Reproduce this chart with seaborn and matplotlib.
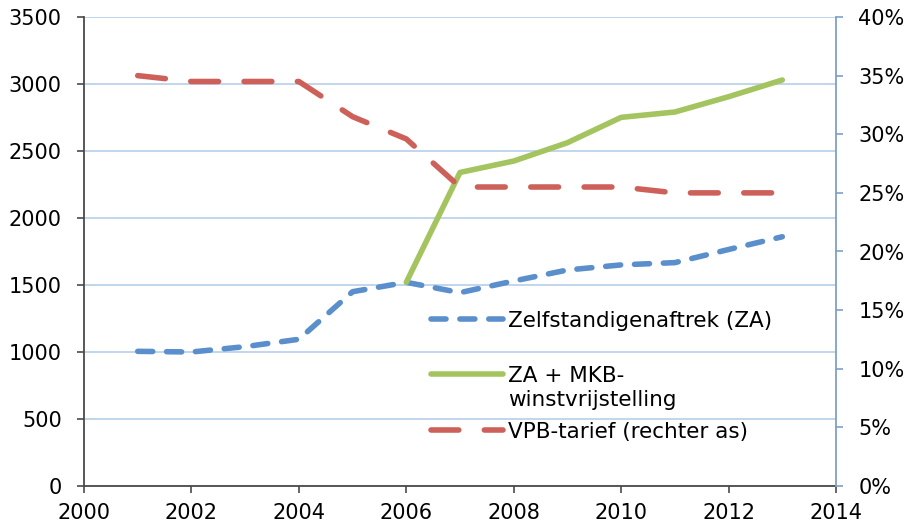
import matplotlib
matplotlib.use("Agg")
import matplotlib.pyplot as plt
import seaborn as sns
import pandas as pd
from matplotlib.ticker import FuncFormatter, MultipleLocator

# Deduction amounts (euro) and corporate tax rate per year
years = [2001, 2002, 2003, 2004, 2005, 2006, 2007, 2008, 2009, 2010, 2011, 2012, 2013]
za = [1005, 1000, 1040, 1095, 1450, 1520, 1443, 1530, 1612, 1650, 1667, 1765, 1860]
za_mkb_years = [2006, 2007, 2008, 2009, 2010, 2011, 2012, 2013]
za_mkb = [1520, 2340, 2425, 2562, 2751, 2791, 2905, 3030]
vpb = [35.0, 34.5, 34.5, 34.5, 31.5, 29.6, 25.5, 25.5, 25.5, 25.5, 25.0, 25.0, 25.0]

label_za = "Zelfstandigenaftrek (ZA)"
label_mkb = ["ZA + MKB-", "winstvrijstelling"]
label_vpb = "VPB-tarief (rechter as)"

blue = "#5a8fcb"
green = "#a4c45f"
red = "#cd615a"
grid_col = "#b6cfea"
right_col = "#7f9fc8"
dark = "#4a4a4a"

sns.set_style("white")
plt.rcParams["font.family"] = ["DejaVu Sans"]
plt.rcParams["text.color"] = "black"
fs = 15
fs_leg = 15.5

df_za = pd.DataFrame({"jaar": years, "bedrag": za})
df_mkb = pd.DataFrame({"jaar": za_mkb_years, "bedrag": za_mkb})
df_vpb = pd.DataFrame({"jaar": years, "tarief": vpb})

W, H = 907, 526
fig = plt.figure(figsize=(W / 100, H / 100), dpi=100)
ax = fig.add_axes([84 / W, 1 - 486 / H, (836 - 84) / W, (486 - 17) / H])
ax2 = ax.twinx()

lw = 4.0
sns.lineplot(data=df_za, x="jaar", y="bedrag", ax=ax, color=blue, linewidth=lw,
             linestyle=(0, (2.7, 2.5)), dash_capstyle="round", legend=False)
sns.lineplot(data=df_mkb, x="jaar", y="bedrag", ax=ax, color=green, linewidth=lw,
             solid_capstyle="round", legend=False)
sns.lineplot(data=df_vpb, x="jaar", y="tarief", ax=ax2, color=red, linewidth=lw,
             linestyle=(0, (5.0, 4.6)), dash_capstyle="round", legend=False)

ax.set_xlim(2000, 2014)
ax.set_ylim(0, 3500)
ax2.set_ylim(0, 40)
ax.xaxis.set_major_locator(MultipleLocator(2))
ax.yaxis.set_major_locator(MultipleLocator(500))
ax2.yaxis.set_major_locator(MultipleLocator(5))
ax2.yaxis.set_major_formatter(FuncFormatter(lambda v, p: f"{v:.0f}%"))

ax.set_xlabel("")
ax.set_ylabel("")
ax2.set_ylabel("")

ax.grid(axis="y", color=grid_col, linewidth=1.2)
ax.grid(axis="x", visible=False)
ax.set_axisbelow(True)
ax2.grid(False)

for a in (ax, ax2):
    a.spines["top"].set_visible(False)
ax.spines["right"].set_visible(False)
ax2.spines["left"].set_visible(False)
ax2.spines["bottom"].set_visible(False)
ax.spines["left"].set_color(dark)
ax.spines["left"].set_linewidth(1.3)
ax.spines["bottom"].set_color(dark)
ax.spines["bottom"].set_linewidth(1.3)
ax2.spines["right"].set_color(right_col)
ax2.spines["right"].set_linewidth(1.3)

ax.tick_params(axis="y", direction="out", length=5, width=1.2, color=dark,
               labelsize=fs, labelcolor="black", pad=11, left=True)
ax.tick_params(axis="x", direction="out", length=5, width=1.2, color=dark,
               labelsize=fs, labelcolor="black", pad=7, bottom=True)
ax2.tick_params(axis="y", direction="out", length=5, width=1.2, color=right_col,
                labelsize=fs, labelcolor="black", pad=11, right=True)

line_za, line_mkb = ax.get_lines()[0], ax.get_lines()[1]
line_vpb = ax2.get_lines()[0]


def entry(handle, text, y_px):
    leg = ax2.legend([handle], [text], loc="center left",
                     bbox_to_anchor=(431 / W, 1 - y_px / H), bbox_transform=fig.transFigure,
                     frameon=False, fontsize=fs_leg, handlelength=3.35, handletextpad=0.23,
                     borderpad=0, borderaxespad=0)
    ax2.add_artist(leg)
    return leg


entry(line_za, label_za, 321)
entry(line_mkb, label_mkb[0], 376)
entry(line_vpb, label_vpb, 432)
# every entry is already kept as an artist; drop the axes' own legend slot
ax2.legend_ = None
fig.text(508 / W, 1 - 400 / H, label_mkb[1], fontsize=fs_leg, ha="left", va="center",
         color="black")

fig.savefig("out.png", dpi=100)
